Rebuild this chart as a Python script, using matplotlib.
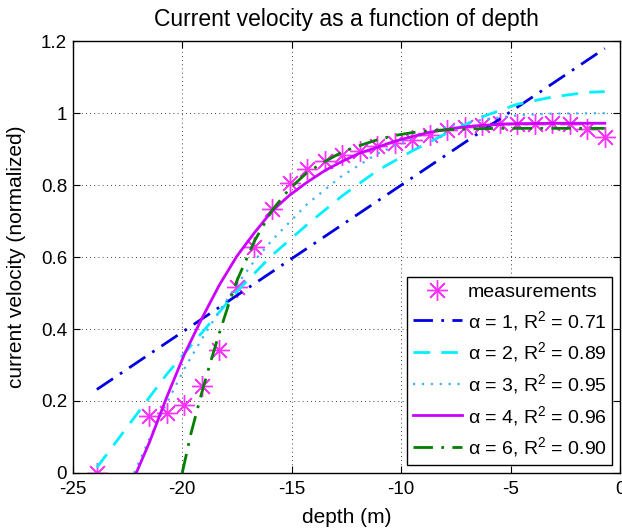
import matplotlib
matplotlib.use("Agg")
import matplotlib.pyplot as plt
from matplotlib.ticker import FormatStrFormatter

plt.rcParams['font.family'] = ['Liberation Sans', 'DejaVu Sans']
plt.rcParams['mathtext.fontset'] = 'custom'
plt.rcParams['mathtext.rm'] = 'Liberation Sans'
plt.rcParams['mathtext.default'] = 'regular'

# measured profile
depth_meas = [-23.9, -21.5, -20.7, -19.9, -19.1, -18.3, -17.5, -16.7, -15.9, -15.1,
              -14.3, -13.5, -12.7, -11.9, -11.1, -10.3, -9.5, -8.7, -7.9, -7.1,
              -6.3, -5.5, -4.7, -3.9, -3.1, -2.3, -1.5, -0.7]
vel_meas = [0.0, 0.158, 0.166, 0.189, 0.243, 0.342, 0.518, 0.629, 0.735, 0.805,
            0.845, 0.868, 0.883, 0.896, 0.910, 0.918, 0.926, 0.939, 0.953, 0.962,
            0.968, 0.972, 0.971, 0.971, 0.973, 0.971, 0.957, 0.933]

# fitted profiles
depth_a1 = [-23.9, -0.7]
vel_a1 = [0.232, 1.18]

depth_a2 = [-23.9, -22.3, -20.7, -19.1, -17.5, -15.9, -14.3, -12.7, -11.1, -9.5,
            -7.9, -6.3, -4.7, -3.1, -1.5, -0.7]
vel_a2 = [0.015, 0.145, 0.275, 0.39, 0.505, 0.605, 0.69, 0.77, 0.84, 0.895,
          0.945, 0.99, 1.025, 1.045, 1.058, 1.06]

depth_a3 = [-22.2, -21.5, -20.7, -19.9, -19.1, -18.3, -17.5, -16.7, -15.9, -14.3,
            -12.7, -11.1, -9.5, -7.9, -6.3, -4.7, -3.1, -0.7]
vel_a3 = [0.0, 0.095, 0.195, 0.29, 0.373, 0.45, 0.523, 0.59, 0.647, 0.747,
          0.826, 0.887, 0.931, 0.962, 0.982, 0.994, 0.999, 1.0]

depth_a4 = [-22.1, -21.5, -20.7, -19.9, -19.1, -18.3, -17.5, -16.7, -15.9, -15.1,
            -14.3, -13.5, -12.7, -11.9, -11.1, -10.3, -9.5, -8.7, -7.9, -7.1,
            -6.3, -5.5, -4.7, -3.1, -0.7]
vel_a4 = [0.0, 0.085, 0.212, 0.33, 0.43, 0.523, 0.603, 0.668, 0.728, 0.772,
          0.808, 0.84, 0.866, 0.889, 0.905, 0.922, 0.935, 0.947, 0.955, 0.962,
          0.966, 0.969, 0.971, 0.972, 0.972]

depth_a6 = [-20.0, -19.6, -19.1, -18.7, -18.3, -17.9, -17.5, -16.7, -15.9, -15.1,
            -14.3, -13.5, -12.7, -11.9, -11.1, -10.3, -9.5, -8.7, -7.9, -7.1,
            -5.5, -0.7]
vel_a6 = [0.0, 0.11, 0.225, 0.31, 0.39, 0.465, 0.535, 0.645, 0.73, 0.79,
          0.835, 0.865, 0.892, 0.91, 0.926, 0.938, 0.946, 0.951, 0.954, 0.956,
          0.958, 0.958]

labels = ['measurements',
          'α = 1, R$^2$ = 0.71',
          'α = 2, R$^2$ = 0.89',
          'α = 3, R$^2$ = 0.95',
          'α = 4, R$^2$ = 0.96',
          'α = 6, R$^2$ = 0.90']

fig = plt.figure(figsize=(6.22, 5.29), dpi=100)
ax = fig.add_axes([0.117, 0.106, 0.880, 0.816])

ax.plot(depth_meas, vel_meas, linestyle='none', marker=(8, 2, 0), markersize=15,
        markeredgewidth=1.0, color='#ff33ff', label=labels[0])
ax.plot(depth_a1, vel_a1, color='#0000e0', lw=2, dashes=(7, 3, 1, 3), label=labels[1])
ax.plot(depth_a2, vel_a2, color='#00f0ff', lw=2, dashes=(6, 4), label=labels[2])
ax.plot(depth_a3, vel_a3, color='#40b0ff', lw=1.6, dashes=(1, 3), label=labels[3])
ax.plot(depth_a4, vel_a4, color='#cc00ff', lw=2, label=labels[4])
ax.plot(depth_a6, vel_a6, color='#007f00', lw=2, dashes=(7, 3, 1, 3), label=labels[5])

ax.set_xlim(-25, 0)
ax.set_ylim(0, 1.2)
ax.set_xticks([-25, -20, -15, -10, -5, 0])
ax.set_yticks([0, 0.2, 0.4, 0.6, 0.8, 1.0, 1.2])
ax.xaxis.set_major_formatter(FormatStrFormatter('%g'))
ax.yaxis.set_major_formatter(FormatStrFormatter('%g'))
ax.tick_params(direction='in', top=True, right=True, labelsize=13.5, length=5)
ax.tick_params(axis='x', pad=6)
ax.tick_params(axis='y', pad=4)
ax.grid(True, color='black', linestyle=(0, (1, 4)), linewidth=0.6)
for s in ax.spines.values():
    s.set_linewidth(1.0)

ax.set_title('Current velocity as a function of depth', fontsize=16.5, pad=11)
ax.set_xlabel('depth (m)', fontsize=15, labelpad=7)
ax.set_ylabel('current velocity (normalized)', fontsize=15, labelpad=11)

leg = ax.legend(loc='lower right', fontsize=14, fancybox=False, framealpha=1,
                edgecolor='black', handlelength=2.5, handletextpad=0.3,
                borderaxespad=0.4, labelspacing=0.4, borderpad=0.3)
leg.get_frame().set_linewidth(1.0)

fig.savefig('out.png', dpi=100)
